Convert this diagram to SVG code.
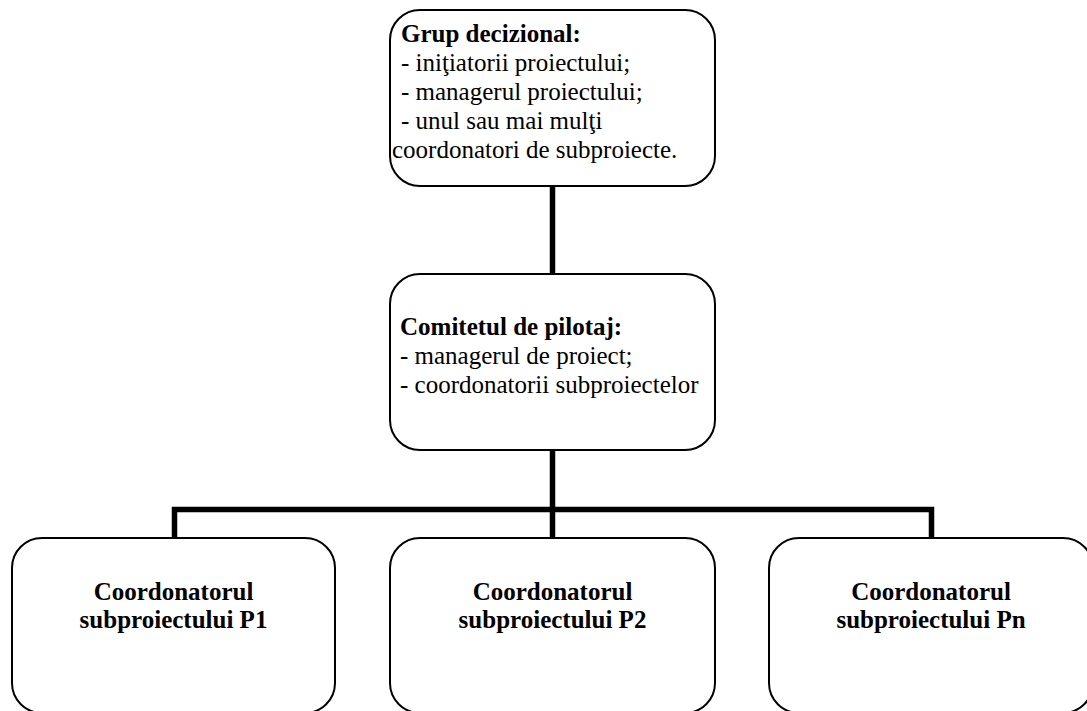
<svg xmlns="http://www.w3.org/2000/svg" width="1087" height="711" viewBox="0 0 1087 711">
<style>
.box{fill:#fff;stroke:#000;stroke-width:2}
.conn{fill:none;stroke:#000;stroke-width:5.5;stroke-linecap:butt;stroke-linejoin:miter}
text{font-family:"Liberation Serif","Times New Roman",serif;font-size:25px;fill:#000}
.b{font-weight:bold}
.c{text-anchor:middle;font-weight:bold}
</style>
<rect width="1087" height="711" fill="#fff"/>
<g id="connectors">
<line class="conn" x1="552.5" y1="186" x2="552.5" y2="274"/>
<line class="conn" x1="552.5" y1="450" x2="552.5" y2="538"/>
<polyline class="conn" points="174.5,538 174.5,509.5 931.5,509.5 931.5,538"/>
</g>
<g id="node-grup">
<rect class="box" x="390" y="10" width="325" height="176" rx="30" ry="30"/>
<text x="401" y="42" class="b">Grup decizional:</text>
<text x="401" y="71">- iniţiatorii proiectului;</text>
<text x="401" y="100">- managerul proiectului;</text>
<text x="401" y="129">- unul sau mai mulţi</text>
<text x="392" y="158">coordonatori de subproiecte.</text>
</g>
<g id="node-comitet">
<rect class="box" x="390" y="274" width="325" height="176" rx="30" ry="30"/>
<text x="400" y="335" class="b">Comitetul de pilotaj:</text>
<text x="400" y="364">- managerul de proiect;</text>
<text x="400" y="393">- coordonatorii subproiectelor</text>
</g>
<g id="node-p1">
<rect class="box" x="12" y="538" width="323" height="175" rx="30" ry="30"/>
<text x="173.5" y="600" class="c">Coordonatorul</text>
<text x="173.5" y="628" class="c">subproiectului P1</text>
</g>
<g id="node-p2">
<rect class="box" x="390" y="538" width="325" height="175" rx="30" ry="30"/>
<text x="552.5" y="600" class="c">Coordonatorul</text>
<text x="552.5" y="628" class="c">subproiectului P2</text>
</g>
<g id="node-pn">
<rect class="box" x="769" y="538" width="324" height="175" rx="30" ry="30"/>
<text x="931" y="600" class="c">Coordonatorul</text>
<text x="931" y="628" class="c">subproiectului Pn</text>
</g>
</svg>
